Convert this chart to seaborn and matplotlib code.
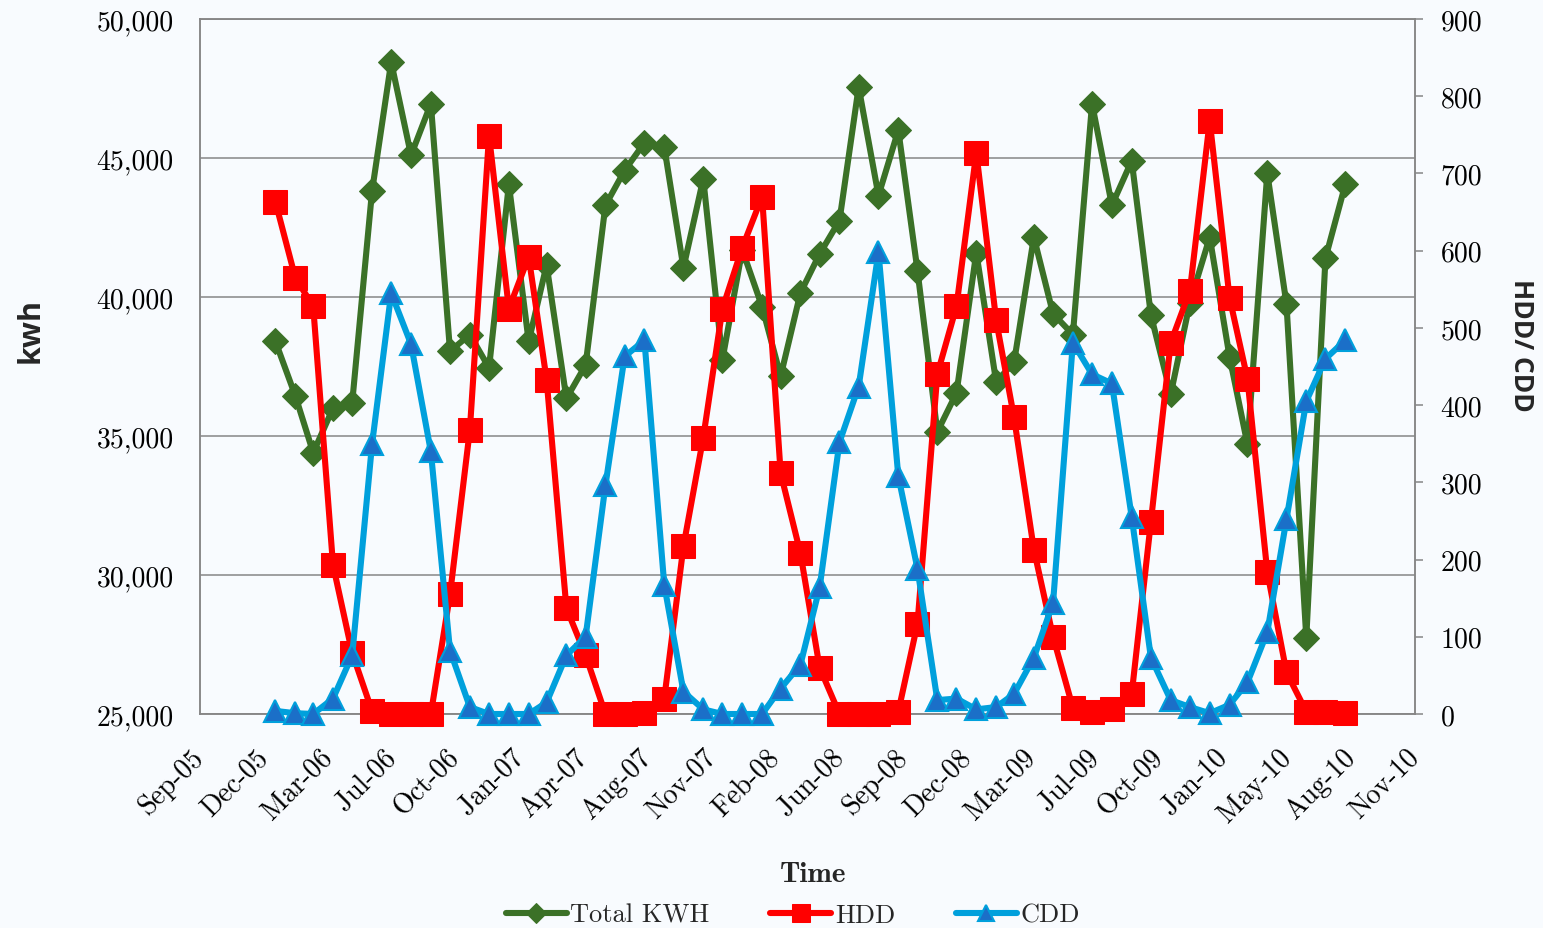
import datetime as dt
import numpy as np
import pandas as pd
import matplotlib
matplotlib.use("Agg")
import matplotlib.pyplot as plt
import matplotlib.dates as mdates
from matplotlib.ticker import FuncFormatter, MultipleLocator, FixedLocator
from matplotlib.font_manager import FontProperties
import seaborn as sns

# ---------------- data ----------------
months = pd.date_range("2006-01-01", "2010-08-01", freq="MS")

total_kwh = [
    38400, 36450, 34400, 36000, 36200, 43800, 48450, 45100, 46950, 38050, 38650, 37450,
    44050, 38400, 41150, 36350, 37550, 43300, 44550, 45550, 45400, 41050, 44250, 37750,
    41700, 39650, 37150, 40150, 41550, 42750, 47550, 43650, 46000, 40950, 35150, 36550,
    41600, 36950, 37650, 42150, 39400, 38650, 46950, 43300, 44900, 39350, 36500, 39800,
    42150, 37850, 34700, 44450, 39750, 27750, 41400, 44050,
]
hdd = [
    663, 565, 528, 193, 79, 4, 0, 0, 0, 155, 368, 749,
    525, 592, 433, 137, 76, 0, 0, 1, 20, 217, 358, 525,
    604, 670, 312, 208, 60, 0, 0, 0, 3, 117, 440, 528,
    727, 510, 384, 213, 100, 8, 3, 6, 26, 249, 481, 548,
    768, 539, 434, 184, 54, 3, 3, 1,
]
cdd = [
    4, 1, 0, 20, 76, 349, 545, 479, 340, 82, 9, 0,
    0, 0, 15, 76, 100, 296, 463, 484, 167, 29, 6, 0,
    0, 0, 33, 64, 164, 352, 424, 598, 308, 188, 18, 20,
    6, 9, 26, 73, 144, 481, 440, 428, 255, 73, 18, 9,
    1, 12, 41, 106, 252, 405, 460, 484,
]
series_labels = ["Total KWH", "HDD", "CDD"]
left_label = "kwh"
right_label = "HDD/ CDD"
x_label = "Time"

# ---------------- style ----------------
BG = "#F8FBFE"
GREEN = "#3B7127"
RED = "#FF0000"
BLUE_LINE = "#00A0DC"
BLUE_FILL = "#1B6FC8"
GRID = "#868686"

sns.set_theme(style="white")
plt.rcParams["font.family"] = ["cmr10", "DejaVu Serif"]
plt.rcParams["axes.unicode_minus"] = False

W, H = 1543, 929
fig = plt.figure(figsize=(W / 100, H / 100), dpi=100, facecolor=BG)
ax = fig.add_axes([200 / W, 1 - 715 / H, 1215 / W, 695 / H])
ax.set_facecolor(BG)
ax2 = ax.twinx()
ax2.patch.set_visible(False)

line_kw = dict(linewidth=4.4, solid_joinstyle="round", solid_capstyle="round",
               clip_on=False, errorbar=None)

sns.lineplot(x=months, y=total_kwh, ax=ax, color=GREEN, marker="D", markersize=13,
             markeredgecolor=GREEN, markerfacecolor=GREEN, label=series_labels[0],
             zorder=3, **line_kw)
sns.lineplot(x=months, y=hdd, ax=ax2, color=RED, marker="s", markersize=17,
             markeredgecolor=RED, markerfacecolor=RED, label=series_labels[1],
             zorder=3, **line_kw)
sns.lineplot(x=months, y=cdd, ax=ax2, color=BLUE_LINE, marker="^", markersize=16,
             markeredgecolor=BLUE_LINE, markerfacecolor=BLUE_FILL, markeredgewidth=1.5,
             label=series_labels[2], zorder=4, **line_kw)

for a in (ax, ax2):
    leg = a.get_legend()
    if leg is not None:
        leg.remove()
    a.set_xlabel("")
    a.set_ylabel("")

# x axis: date scale, ticks every 100 days
start = mdates.date2num(dt.datetime(2005, 9, 5))
xticks = [start + 100 * i for i in range(20)]
ax.set_xlim(xticks[0], xticks[-1])
ax.xaxis.set_major_locator(FixedLocator(xticks))
ax.xaxis.set_major_formatter(mdates.DateFormatter("%b-%y"))

ax.set_ylim(25000, 50000)
ax.yaxis.set_major_locator(MultipleLocator(5000))
ax.yaxis.set_major_formatter(FuncFormatter(lambda v, p: f"{int(v):,}"))
ax2.set_ylim(0, 900)
ax2.yaxis.set_major_locator(MultipleLocator(100))

ax.grid(axis="y", color=GRID, linewidth=1.1)
ax.grid(axis="x", visible=False)
ax2.grid(False)
ax.set_axisbelow(True)

for a in (ax, ax2):
    for s in a.spines.values():
        s.set_color(GRID)
        s.set_linewidth(1.1)
        s.set_visible(True)

ax.tick_params(axis="y", which="both", length=0, pad=19, labelsize=20, labelcolor="black")
ax.tick_params(axis="x", which="both", length=0, pad=28, labelsize=20, labelcolor="black")
ax2.tick_params(axis="y", which="both", direction="out", length=5.5, width=1.1,
                color=GRID, pad=13, labelsize=20, labelcolor="black", right=True)

for lab in ax.get_xticklabels():
    lab.set_rotation(45)
    lab.set_ha("right")
    lab.set_va("center")
    lab.set_rotation_mode("anchor")

# axis titles
fig.text(31 / W, 1 - 331 / H, left_label, rotation=90, ha="center", va="center",
         fontsize=22, fontweight="bold", family=["Open Sans", "DejaVu Sans"])
fig.text(1521 / W, 1 - 345 / H, right_label, rotation=270, ha="center", va="center",
         fontsize=19, fontweight="bold", family=["Open Sans", "DejaVu Sans"])
fig.text(813 / W, 1 - 875 / H, x_label, ha="center", va="center",
         fontsize=21, family=["cmb10", "DejaVu Serif"])

# legend
h1, l1 = ax.get_legend_handles_labels()
h2, l2 = ax2.get_legend_handles_labels()
fig.legend(h1 + h2, l1 + l2, loc="center", bbox_to_anchor=(793 / W, 1 - 916 / H),
           ncol=3, frameon=False, prop=FontProperties(family="cmr10", size=19),
           handlelength=2.3, columnspacing=2.3, handletextpad=0.15, markerscale=0.75,
           borderaxespad=0, borderpad=0)

fig.savefig("out.png", dpi=100, facecolor=BG)
